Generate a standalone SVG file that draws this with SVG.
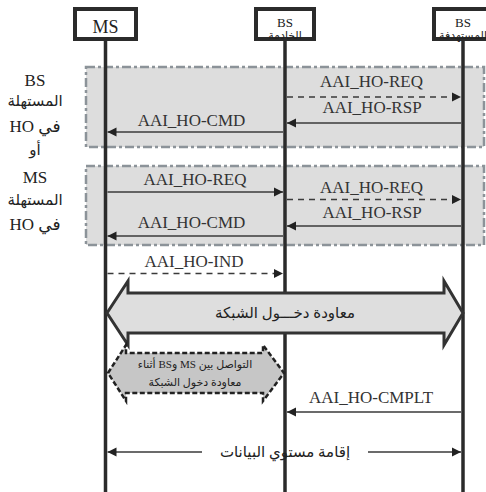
<svg xmlns="http://www.w3.org/2000/svg" width="486" height="492" viewBox="0 0 486 492">
  <defs>
    <style>
      .lane { fill: #ffffff; stroke: #2b2b2b; stroke-width: 4; }
      .life { stroke: #2b2b2b; stroke-width: 3.5; fill: none; }
      .zone { fill: #dddddd; stroke: #8c9399; stroke-width: 2.5; stroke-dasharray: 9 3 3 3; }
      .msg { stroke: #3a3a3a; stroke-width: 1.3; fill: none; marker-end: url(#ah); }
      .dash { stroke-dasharray: 6 5; }
      .lbl { font-family: "Liberation Serif", "DejaVu Serif", serif; font-size: 17px; fill: #333333; text-anchor: middle; }
      .side { font-family: "Liberation Serif", "DejaVu Sans", serif; font-size: 17px; fill: #222222; text-anchor: middle; }
      .ar { font-family: "Liberation Serif", "DejaVu Sans", serif; fill: #222222; text-anchor: middle; direction: rtl; }
    </style>
    <marker id="ah" viewBox="0 0 10 10" refX="10" refY="5" markerWidth="9" markerHeight="10" markerUnits="userSpaceOnUse" orient="auto-start-reverse">
      <path d="M0,0 L10,5 L0,10 z" fill="#222222"/>
    </marker>
  </defs>

  <rect width="486" height="492" fill="#ffffff"/>

  <!-- shaded phases -->
  <g id="zones">
    <rect class="zone" x="86" y="67" width="398" height="80"/>
    <rect class="zone" x="86" y="166" width="398" height="79"/>
  </g>

  <!-- lifelines -->
  <g id="lifelines">
    <line class="life" x1="105.5" y1="41" x2="105.5" y2="492"/>
    <line class="life" x1="285" y1="41" x2="285" y2="492"/>
    <line class="life" x1="463" y1="41" x2="463" y2="492"/>
  </g>

  <g id="node-ms">
    <rect class="lane" x="75" y="9" width="61" height="30"/>
    <text class="lbl" x="105.5" y="33" style="font-size:18px;fill:#222">MS</text>
  </g>
  <g id="node-serving">
    <rect class="lane" x="256" y="9" width="58" height="30"/>
    <text class="lbl" x="285" y="26.5" style="font-size:13px;fill:#222">BS</text>
    <text class="ar" x="285" y="39" style="font-size:11px">الخادمة</text>
  </g>
  <g id="node-target">
    <rect class="lane" x="434" y="9" width="60" height="30"/>
    <text class="lbl" x="463" y="26.5" style="font-size:13px;fill:#222">BS</text>
    <text class="ar" x="463" y="39" style="font-size:11px">المستهدفة</text>
  </g>

  <!-- side captions -->
  <g id="side-labels">
    <text class="side" x="35" y="86">BS</text>
    <text class="ar" x="35" y="106" style="font-size:15px">المستهلة</text>
    <text class="ar" x="35" y="132" style="font-size:17px">في HO</text>
    <text class="ar" x="35" y="155" style="font-size:15px">أو</text>
    <text class="side" x="35" y="183">MS</text>
    <text class="ar" x="35" y="205" style="font-size:15px">المستهلة</text>
    <text class="ar" x="35" y="230" style="font-size:17px">في HO</text>
  </g>

  <!-- messages -->
  <g id="connectors">
    <line class="msg dash" x1="287" y1="97" x2="461" y2="97"/>
    <text class="lbl" x="371.5" y="87">AAI_HO-REQ</text>
    <line class="msg" x1="461" y1="123" x2="287" y2="123"/>
    <text class="lbl" x="372" y="112.5">AAI_HO-RSP</text>
    <line class="msg" x1="283" y1="132" x2="107.5" y2="132"/>
    <text class="lbl" x="191.5" y="125.5">AAI_HO-CMD</text>

    <line class="msg" x1="107.5" y1="192" x2="283" y2="192"/>
    <text class="lbl" x="195" y="185">AAI_HO-REQ</text>
    <line class="msg dash" x1="287" y1="199.5" x2="461" y2="199.5"/>
    <text class="lbl" x="371.5" y="193">AAI_HO-REQ</text>
    <line class="msg" x1="461" y1="226" x2="287" y2="226"/>
    <text class="lbl" x="372" y="218">AAI_HO-RSP</text>
    <line class="msg" x1="283" y1="236" x2="107.5" y2="236"/>
    <text class="lbl" x="191.5" y="228">AAI_HO-CMD</text>

    <line class="msg dash" x1="107.5" y1="273.5" x2="283" y2="273.5"/>
    <text class="lbl" x="194" y="266.5">AAI_HO-IND</text>

    <line class="msg" x1="461" y1="412" x2="287" y2="412"/>
    <text class="lbl" x="371" y="403">AAI_HO-CMPLT</text>

    <line class="msg" x1="202" y1="452" x2="107.5" y2="452"/>
    <line class="msg" x1="368" y1="452" x2="461" y2="452"/>
    <text class="ar" x="285" y="457" style="font-size:15px">إقامة مستوي البيانات</text>
  </g>

  <!-- network re-entry span -->
  <g id="reentry">
    <path d="M107,313 L128,281 L128,293 L444,293 L444,281 L463,313 L444,345 L444,333 L128,333 L128,345 Z" fill="#dedede" stroke="#333333" stroke-width="3" stroke-linejoin="miter"/>
    <text class="ar" x="285" y="318" style="font-size:15px">معاودة دخـــول الشبكة</text>
  </g>

  <!-- MS/BS exchange during re-entry -->
  <g id="exchange">
    <path d="M108,373 L126,345 L126,353 L263,353 L263,345 L284,373 L263,401 L263,393 L126,393 L126,401 Z" fill="#c6c6c6" stroke="#222222" stroke-width="2.5" stroke-dasharray="5 2.5"/>
    <text class="ar" x="195" y="368" style="font-size:11px">التواصل بين MS وBS أثناء</text>
    <text class="ar" x="195" y="386" style="font-size:11px">معاودة دخول الشبكة</text>
  </g>
</svg>
